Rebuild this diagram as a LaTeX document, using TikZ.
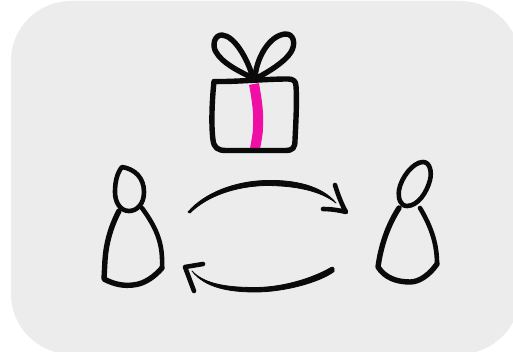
\documentclass[tikz,border=0pt]{standalone}
\definecolor{panel}{HTML}{EDECED}
\definecolor{ink}{HTML}{0A0A0A}
\definecolor{ribbon}{HTML}{F00FA5}
\tikzset{
  brush/.style={draw=ink,line width=5.4pt,line cap=round,line join=round},
  thinbrush/.style={brush,line width=4.6pt},
  taper/.style={fill=ink,draw=ink,line width=.8pt,line join=round},
}
\begin{document}
\begin{tikzpicture}[x=1pt,y=-1pt]
\useasboundingbox (0,0) rectangle (513,352);
\fill[white] (0,0) rectangle (513,352);
\begin{scope}
\clip (0,0) rectangle (513,352);
\fill[panel,rounded corners=60pt] (11,1) rectangle (520,354);
\end{scope}
% ribbon
\draw[draw=ribbon,line width=10pt] (254,84) .. controls (257,100) and (259,115) .. (258,127) .. controls (258,135) and (256,142) .. (255,149);
% box
\draw[brush] (214,81.5) .. controls (212,100) and (211,125) .. (213,140) .. controls (214,148) and (218,150.5) .. (226,150.5) -- (285,150.5) .. controls (293,150.5) and (295,148) .. (295,140) .. controls (296,120) and (297,100) .. (296,86) .. controls (296,81) and (293,79) .. (288,79) .. controls (265,79) and (235,82) .. (214,81.5);
% bow
\draw[brush] (253,78) .. controls (248,60) and (235,36) .. (222,35) .. controls (214,35) and (212,46) .. (216,52) .. controls (222,63) and (240,72) .. (253,78);
\draw[brush] (255,78) .. controls (256,60) and (268,36) .. (285,34) .. controls (294,33.5) and (296,44) .. (291,52) .. controls (285,62) and (268,72) .. (257,78);
% left person
\draw[thinbrush] (122,167) .. controls (135,169) and (144,178) .. (144,192) .. controls (144,204) and (137,211) .. (129,211) .. controls (120,211) and (115,202) .. (115,192) .. controls (115,182) and (117,173) .. (122,167) -- cycle;
\draw[brush] (119,211) .. controls (110,228) and (106,245) .. (105,260) -- (104,279) .. controls (115,285) and (125,286) .. (133,285) .. controls (145,284) and (155,276) .. (162,268);
\draw[thinbrush] (162,268) .. controls (163,245) and (158,230) .. (142,208);
% right person
\draw[thinbrush] (423,162) .. controls (430,162) and (432,172) .. (430,180) .. controls (427,192) and (418,206) .. (407,206) .. controls (400,206) and (398,198) .. (399,190) .. controls (401,178) and (413,162) .. (423,162) -- cycle;
\draw[brush] (399,208) .. controls (388,225) and (381,245) .. (378,267) .. controls (385,278) and (397,282) .. (410,282) .. controls (420,282) and (430,274) .. (437,264);
\draw[thinbrush] (437,264) .. controls (437,245) and (432,228) .. (420,208);
% top arrow
\fill[taper] (188,212) .. controls (205,192.5) and (235,181.5) .. (265,180.5) .. controls (295,179.5) and (322,186) .. (336,203) .. controls (320,190.5) and (295,185.5) .. (265,185.5) .. controls (235,186.5) and (207,196) .. (190,213) -- cycle;
\draw[thinbrush] (335,185) .. controls (338,195) and (342,205) .. (346,212) .. controls (338,210) and (330,209) .. (323,209);
% bottom arrow
\fill[taper] (331,267.5) .. controls (315,277) and (285,287.5) .. (255,287.5) .. controls (230,287.5) and (205,285) .. (192,271) .. controls (205,288) and (230,292) .. (255,292) .. controls (285,292) and (320,282) .. (334,271.5) .. controls (335,270) and (334,266) .. (331,267.5) -- cycle;
\draw[thinbrush] (203,264) .. controls (197,265) and (191,266) .. (185,267) .. controls (188,275) and (191,283) .. (194,291);
\end{tikzpicture}
\end{document}
